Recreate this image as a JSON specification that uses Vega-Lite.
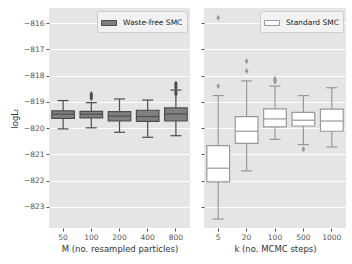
{
  "$schema": "https://vega.github.io/schema/vega-lite/v6.json",
  "background": "white",
  "padding": {"left": 10, "top": 8, "right": 6, "bottom": 2},
  "spacing": 10,
  "resolve": {"scale": {"fill": "independent", "stroke": "independent"}, "legend": {"fill": "independent", "stroke": "independent"}},
  "config": {
    "font": "DejaVu Sans",
    "view": {"fill": "#E5E5E5", "stroke": null},
    "axis": {"domain": false, "labelColor": "#555555", "labelFontSize": 7.5, "tickColor": "#555555", "tickSize": 3, "titleColor": "#333333", "titleFontSize": 8.5, "titleFontWeight": "normal", "grid": false, "labelPadding": 2, "labelOverlap": false},
    "axisY": {"grid": true, "gridColor": "#FFFFFF", "gridWidth": 1},
    "legend": {"orient": "top-right", "offset": 3, "fillColor": "#F2F2F2", "strokeColor": "#CCCCCC", "padding": 4, "cornerRadius": 2, "labelFontSize": 7.5, "labelColor": "#222222", "labelOffset": 6, "symbolType": "M-1,-0.33H1V0.33H-1Z", "symbolSize": 225, "symbolStrokeWidth": 1, "symbolOpacity": 1, "title": null}
  },
  "datasets": {
    "wf": [
      {"M": "50", "method": "Waste-free SMC", "lo": -820.03, "q1": -819.63, "med": -819.47, "q3": -819.34, "hi": -818.95},
      {"M": "100", "method": "Waste-free SMC", "lo": -819.99, "q1": -819.61, "med": -819.47, "q3": -819.36, "hi": -819.03},
      {"M": "200", "method": "Waste-free SMC", "lo": -820.16, "q1": -819.73, "med": -819.54, "q3": -819.37, "hi": -818.89},
      {"M": "400", "method": "Waste-free SMC", "lo": -820.35, "q1": -819.74, "med": -819.56, "q3": -819.32, "hi": -818.93},
      {"M": "800", "method": "Waste-free SMC", "lo": -820.29, "q1": -819.73, "med": -819.46, "q3": -819.23, "hi": -818.55}
    ],
    "wf_out": [
      {"M": "100", "v": -818.70}, {"M": "100", "v": -818.78}, {"M": "100", "v": -818.86},
      {"M": "800", "v": -818.30}, {"M": "800", "v": -818.38}, {"M": "800", "v": -818.46}, {"M": "800", "v": -818.62}, {"M": "800", "v": -818.70}
    ],
    "std": [
      {"k": "5", "method": "Standard SMC", "lo": -823.47, "q1": -822.05, "med": -821.53, "q3": -820.67, "hi": -818.76},
      {"k": "20", "method": "Standard SMC", "lo": -821.63, "q1": -820.58, "med": -820.12, "q3": -819.56, "hi": -818.20},
      {"k": "100", "method": "Standard SMC", "lo": -820.43, "q1": -819.95, "med": -819.65, "q3": -819.27, "hi": -818.40},
      {"k": "500", "method": "Standard SMC", "lo": -820.63, "q1": -819.92, "med": -819.70, "q3": -819.40, "hi": -818.76},
      {"k": "1000", "method": "Standard SMC", "lo": -820.72, "q1": -820.12, "med": -819.73, "q3": -819.28, "hi": -818.46}
    ],
    "std_out": [
      {"k": "5", "v": -815.79}, {"k": "5", "v": -818.39},
      {"k": "20", "v": -817.45}, {"k": "20", "v": -817.82},
      {"k": "100", "v": -818.12}, {"k": "100", "v": -818.18}, {"k": "100", "v": -818.23},
      {"k": "500", "v": -820.81}
    ]
  },
  "hconcat": [
    {
      "width": 141,
      "height": 220,
      "encoding": {
        "x": {"field": "M", "type": "nominal", "scale": {"domain": ["50", "100", "200", "400", "800"], "paddingInner": 0, "paddingOuter": 0}, "title": "M (no. resampled particles)", "axis": {"labelAngle": 0}}
      },
      "layer": [
        {"data": {"name": "wf"}, "mark": {"type": "rule", "color": "#4D4D4D", "strokeWidth": 1.2},
         "encoding": {"y": {"field": "lo", "type": "quantitative", "scale": {"domain": [-823.81, -815.42], "nice": false, "zero": false}, "title": "logLₜ", "axis": {"values": [-823, -822, -821, -820, -819, -818, -817, -816], "titlePadding": 4}}, "y2": {"field": "hi"}}},
        {"data": {"name": "wf"}, "mark": {"type": "tick", "color": "#4D4D4D", "size": 11, "thickness": 1.2, "opacity": 1},
         "encoding": {"y": {"field": "lo", "type": "quantitative", "title": "logLₜ", "axis": {"values": [-823, -822, -821, -820, -819, -818, -817, -816], "titlePadding": 4}}}},
        {"data": {"name": "wf"}, "mark": {"type": "tick", "color": "#4D4D4D", "size": 11, "thickness": 1.2, "opacity": 1},
         "encoding": {"y": {"field": "hi", "type": "quantitative", "title": "logLₜ", "axis": {"values": [-823, -822, -821, -820, -819, -818, -817, -816], "titlePadding": 4}}}},
        {"data": {"name": "wf"}, "mark": {"type": "bar", "width": {"band": 0.8}, "strokeWidth": 1.2, "opacity": 1},
         "encoding": {"y": {"field": "q1", "type": "quantitative", "title": "logLₜ", "axis": {"values": [-823, -822, -821, -820, -819, -818, -817, -816], "titlePadding": 4}}, "y2": {"field": "q3"},
           "fill": {"field": "method", "type": "nominal", "scale": {"range": ["#808080"]}},
           "stroke": {"field": "method", "type": "nominal", "scale": {"range": ["#4D4D4D"]}}}},
        {"data": {"name": "wf"}, "mark": {"type": "tick", "color": "#4D4D4D", "size": 22.5, "thickness": 1.2, "opacity": 1},
         "encoding": {"y": {"field": "med", "type": "quantitative", "title": "logLₜ", "axis": {"values": [-823, -822, -821, -820, -819, -818, -817, -816], "titlePadding": 4}}}},
        {"data": {"name": "wf_out"}, "mark": {"type": "point", "shape": "M0,-1L0.6,0L0,1L-0.6,0Z", "size": 36, "filled": true, "color": "#4D4D4D", "opacity": 1},
         "encoding": {"y": {"field": "v", "type": "quantitative", "title": "logLₜ", "axis": {"values": [-823, -822, -821, -820, -819, -818, -817, -816], "titlePadding": 4}}}}
      ]
    },
    {
      "width": 142,
      "height": 220,
      "encoding": {
        "x": {"field": "k", "type": "nominal", "scale": {"domain": ["5", "20", "100", "500", "1000"], "paddingInner": 0, "paddingOuter": 0}, "title": "k (no. MCMC steps)", "axis": {"labelAngle": 0}}
      },
      "layer": [
        {"data": {"name": "std"}, "mark": {"type": "rule", "color": "#999999", "strokeWidth": 1.2},
         "encoding": {"y": {"field": "lo", "type": "quantitative", "scale": {"domain": [-823.81, -815.42], "nice": false, "zero": false}, "title": null, "axis": {"values": [-823, -822, -821, -820, -819, -818, -817, -816], "labels": false}}, "y2": {"field": "hi"}}},
        {"data": {"name": "std"}, "mark": {"type": "tick", "color": "#999999", "size": 11, "thickness": 1.2, "opacity": 1},
         "encoding": {"y": {"field": "lo", "type": "quantitative", "title": null, "axis": {"values": [-823, -822, -821, -820, -819, -818, -817, -816], "labels": false}}}},
        {"data": {"name": "std"}, "mark": {"type": "tick", "color": "#999999", "size": 11, "thickness": 1.2, "opacity": 1},
         "encoding": {"y": {"field": "hi", "type": "quantitative", "title": null, "axis": {"values": [-823, -822, -821, -820, -819, -818, -817, -816], "labels": false}}}},
        {"data": {"name": "std"}, "mark": {"type": "bar", "width": {"band": 0.8}, "strokeWidth": 1.2, "opacity": 1},
         "encoding": {"y": {"field": "q1", "type": "quantitative", "title": null, "axis": {"values": [-823, -822, -821, -820, -819, -818, -817, -816], "labels": false}}, "y2": {"field": "q3"},
           "fill": {"field": "method", "type": "nominal", "scale": {"range": ["#FFFFFF"]}},
           "stroke": {"field": "method", "type": "nominal", "scale": {"range": ["#999999"]}}}},
        {"data": {"name": "std"}, "mark": {"type": "tick", "color": "#999999", "size": 22.5, "thickness": 1.2, "opacity": 1},
         "encoding": {"y": {"field": "med", "type": "quantitative", "title": null, "axis": {"values": [-823, -822, -821, -820, -819, -818, -817, -816], "labels": false}}}},
        {"data": {"name": "std_out"}, "mark": {"type": "point", "shape": "M0,-1L0.6,0L0,1L-0.6,0Z", "size": 36, "filled": true, "color": "#999999", "opacity": 1},
         "encoding": {"y": {"field": "v", "type": "quantitative", "title": null, "axis": {"values": [-823, -822, -821, -820, -819, -818, -817, -816], "labels": false}}}}
      ]
    }
  ]
}
